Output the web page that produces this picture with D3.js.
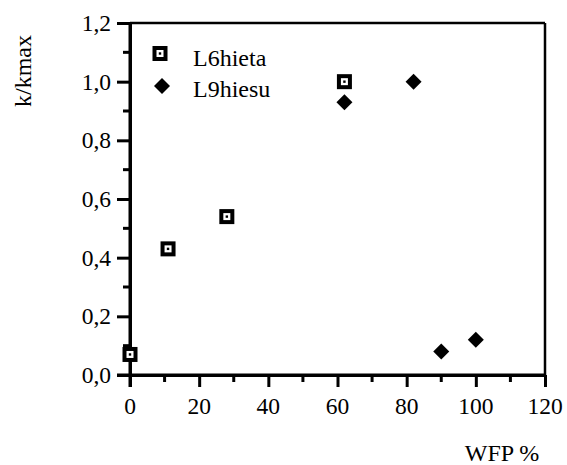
<!DOCTYPE html>
<html><head><meta charset="utf-8"><script src="https://cdn.jsdelivr.net/npm/d3@7"></script></head>
<body><script>
// Relative rate k/kmax against water-filled pore space (WFP %)
const seriesNames = ["L6hieta", "L9hiesu"];
const l6hietaWfp = [0, 11, 28, 62];
const l6hietaK   = [0.07, 0.43, 0.54, 1.0];
const l9hiesuWfp = [62, 82, 90, 100];
const l9hiesuK   = [0.93, 1.0, 0.08, 0.12];
const xTicks = [0, 20, 40, 60, 80, 100, 120];
const yTicks = [0, 0.2, 0.4, 0.6, 0.8, 1.0, 1.2];

const W = 567, H = 465;
const plotLeft = 130, plotRight = 545, plotTop = 23, plotBottom = 375;
const fam = "'Liberation Serif', monospace";

d3.select("body").style("margin", "0px");
const svg = d3.select("body").append("svg").attr("width", W).attr("height", H).style("display", "block");

const x = d3.scaleLinear().domain([0, 120]).range([plotLeft, plotRight]);
const y = d3.scaleLinear().domain([0, 1.2]).range([plotBottom, plotTop]);

const fmtY = d => d3.format(".1f")(d).replace(".", ",");

// Frame: top and right edges
svg.append("line").attr("x1", plotLeft).attr("x2", plotRight).attr("y1", plotTop).attr("y2", plotTop)
  .attr("stroke", "#000").attr("stroke-width", 2.5);
svg.append("line").attr("x1", plotRight).attr("x2", plotRight).attr("y1", plotTop).attr("y2", plotBottom)
  .attr("stroke", "#000").attr("stroke-width", 2.5);

// Minor ticks
const xMinor = d3.range(10, 120, 20);
const yMinor = d3.range(0.1, 1.2, 0.2);
svg.append("g").selectAll("line").data(xMinor).join("line")
  .attr("x1", d => x(d)).attr("x2", d => x(d))
  .attr("y1", plotBottom).attr("y2", plotBottom + 7)
  .attr("stroke", "#000").attr("stroke-width", 3);
svg.append("g").selectAll("line").data(yMinor).join("line")
  .attr("x1", plotLeft - 7).attr("x2", plotLeft)
  .attr("y1", d => y(d)).attr("y2", d => y(d))
  .attr("stroke", "#000").attr("stroke-width", 3);

// Axes: lines and ticks from d3, labels as plain text
const xAxis = svg.append("g").attr("transform", `translate(0,${plotBottom})`)
  .call(d3.axisBottom(x).tickValues(xTicks).tickSize(12).tickFormat("").tickSizeOuter(0));
const yAxis = svg.append("g").attr("transform", `translate(${plotLeft},0)`)
  .call(d3.axisLeft(y).tickValues(yTicks).tickSize(13).tickFormat("").tickSizeOuter(0));
[xAxis, yAxis].forEach(g => {
  g.select(".domain").attr("stroke", "#000").attr("stroke-width", 3);
  g.selectAll(".tick line").attr("stroke", "#000").attr("stroke-width", 3);
  g.selectAll(".tick text").remove();
});

svg.selectAll("text.xlab").data(xTicks).join("text").attr("class", "xlab")
  .attr("x", d => x(d)).attr("y", plotBottom + 39)
  .attr("text-anchor", "middle")
  .style("font-family", fam).style("font-size", "23.5px")
  .text(d => d);
svg.selectAll("text.ylab").data(yTicks).join("text").attr("class", "ylab")
  .attr("x", plotLeft - 19).attr("y", d => y(d) + 8)
  .attr("text-anchor", "end")
  .style("font-family", fam).style("font-size", "23.5px")
  .text(fmtY);

// Extend the axis lines slightly past the origin
svg.append("line").attr("x1", plotLeft).attr("x2", plotLeft).attr("y1", plotTop).attr("y2", plotBottom + 12)
  .attr("stroke", "#000").attr("stroke-width", 3);
svg.append("line").attr("x1", plotLeft - 13).attr("x2", plotRight).attr("y1", plotBottom).attr("y2", plotBottom)
  .attr("stroke", "#000").attr("stroke-width", 3);

// Axis titles
svg.append("text")
  .attr("transform", "translate(31,71) rotate(-90)")
  .attr("text-anchor", "middle")
  .style("font-family", fam).style("font-size", "24px").text("k/kmax");
svg.append("text")
  .attr("x", 502).attr("y", 461)
  .attr("text-anchor", "middle")
  .style("font-family", fam).style("font-size", "24px").text("WFP %");

// Marker drawers
function squareMarker(g) {
  g.append("rect").attr("x", -7.5).attr("y", -7.5).attr("width", 15).attr("height", 15).attr("fill", "#000");
  g.append("rect").attr("x", -3.5).attr("y", -3.5).attr("width", 7).attr("height", 7).attr("fill", "#fff");
  g.append("rect").attr("x", -1.2).attr("y", -1.2).attr("width", 2.4).attr("height", 2.4).attr("fill", "#000");
}
function diamondMarker(g) {
  g.append("path").attr("d", "M0,-8 L8,0 L0,8 L-8,0 Z").attr("fill", "#000");
}

// Data points
const l6 = l6hietaWfp.map((v, i) => ({ wfp: v, k: l6hietaK[i] }));
const l9 = l9hiesuWfp.map((v, i) => ({ wfp: v, k: l9hiesuK[i] }));

svg.append("g").selectAll("g").data(l6).join("g")
  .attr("transform", d => `translate(${x(d.wfp)},${y(d.k)})`)
  .each(function () { squareMarker(d3.select(this)); });
svg.append("g").selectAll("g").data(l9).join("g")
  .attr("transform", d => `translate(${x(d.wfp)},${y(d.k)})`)
  .each(function () { diamondMarker(d3.select(this)); });

// Legend
const l1 = svg.append("g").attr("transform", "translate(160,53.5)");
squareMarker(l1);
const l2 = svg.append("g").attr("transform", "translate(162,86)");
diamondMarker(l2);
svg.append("text").attr("x", 193).attr("y", 65.5)
  .style("font-family", fam).style("font-size", "24px").text(seriesNames[0]);
svg.append("text").attr("x", 193).attr("y", 97)
  .style("font-family", fam).style("font-size", "24px").text(seriesNames[1]);
</script></body></html>
